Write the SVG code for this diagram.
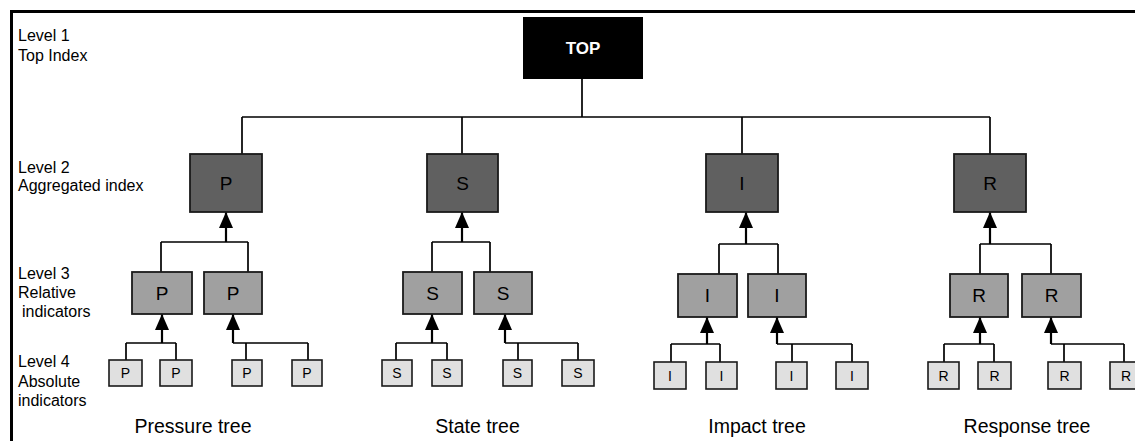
<svg xmlns="http://www.w3.org/2000/svg" width="1135" height="441" viewBox="0 0 1135 441">
<style>
text{font-family:"Liberation Sans",Arial,sans-serif;fill:#000}
.lvl{font-size:16px}
.tree{font-size:19.5px;text-anchor:middle}
.b2 rect{fill:#606060;stroke:#1a1a1a;stroke-width:1.8}
.b3 rect{fill:#a0a0a0;stroke:#1a1a1a;stroke-width:1.8}
.b4 rect{fill:#e0e0e0;stroke:#1a1a1a;stroke-width:1.6}
.b2 text,.b3 text{font-size:19px;text-anchor:middle}
.b4 text{font-size:14px;text-anchor:middle}
.c path{fill:none;stroke:#000;stroke-width:1.7}
.c path.a{stroke-width:2.2}
</style>
<defs>
<marker id="arr" viewBox="0 0 16 14" refX="16" refY="7" markerWidth="16" markerHeight="14" orient="auto" markerUnits="userSpaceOnUse">
<path d="M0,0 L16,7 L0,14 z" fill="#000"/>
</marker>
</defs>
<rect width="1135" height="441" fill="#fff"/>
<g id="frame"><path d="M11.5,441 V11.5 H1135" fill="none" stroke="#000" stroke-width="3"/></g>
<g id="levels">
<text class="lvl" x="18" y="41">Level 1</text>
<text class="lvl" x="18" y="61">Top Index</text>
<text class="lvl" x="18" y="173">Level 2</text>
<text class="lvl" x="18" y="191">Aggregated index</text>
<text class="lvl" x="18" y="279">Level 3</text>
<text class="lvl" x="18" y="298">Relative</text>
<text class="lvl" x="22" y="317">indicators</text>
<text class="lvl" x="18" y="367">Level 4</text>
<text class="lvl" x="18" y="387">Absolute</text>
<text class="lvl" x="18" y="406">indicators</text>
</g>
<g class="c" id="connectors">
<path d="M582,79 V117 M242,117 H990 M242,117 V154 M462,117 V154 M742,117 V154 M990,117 V154"/>
<path class="a" d="M226,242 V212" marker-end="url(#arr)"/>
<path d="M161,242 H248 M161,242 V272 M248,242 V272"/>
<path class="a" d="M162,343 V314" marker-end="url(#arr)"/>
<path d="M126,343 H176 M126,343 V360 M176,343 V360"/>
<path class="a" d="M233,343 V314" marker-end="url(#arr)"/>
<path d="M233,343 H308 M246,343 V360 M308,343 V360"/>
<path class="a" d="M462,242 V212" marker-end="url(#arr)"/>
<path d="M432,242 H490 M432,242 V272 M490,242 V272"/>
<path class="a" d="M432,343 V314" marker-end="url(#arr)"/>
<path d="M396,343 H447 M396,343 V360 M447,343 V360"/>
<path class="a" d="M505,343 V314" marker-end="url(#arr)"/>
<path d="M505,343 H578 M518,343 V360 M578,343 V360"/>
<path class="a" d="M746,244 V212" marker-end="url(#arr)"/>
<path d="M719,244 H778 M719,244 V274 M778,244 V274"/>
<path class="a" d="M707,344 V317" marker-end="url(#arr)"/>
<path d="M671,344 H720 M671,344 V362 M720,344 V362"/>
<path class="a" d="M777,344 V317" marker-end="url(#arr)"/>
<path d="M777,344 H852 M792,344 V362 M852,344 V362"/>
<path class="a" d="M990,244 V212" marker-end="url(#arr)"/>
<path d="M980,244 H1051 M980,244 V274 M1051,244 V274"/>
<path class="a" d="M980,344 V317" marker-end="url(#arr)"/>
<path d="M944,344 H994 M944,344 V362 M994,344 V362"/>
<path class="a" d="M1051,344 V317" marker-end="url(#arr)"/>
<path d="M1051,344 H1124 M1064,344 V362 M1124,344 V362"/>
</g>
<g id="top"><rect x="523" y="17" width="120" height="62" fill="#000"/><text x="583" y="54" font-size="17" font-weight="bold" text-anchor="middle" style="fill:#fff">TOP</text></g>
<g id="p2" class="b2"><rect x="190" y="154" width="72" height="58"/><text x="226" y="190">P</text></g>
<g id="s2" class="b2"><rect x="427" y="154" width="71" height="58"/><text x="462.5" y="190">S</text></g>
<g id="i2" class="b2"><rect x="706" y="154" width="72" height="58"/><text x="742" y="190">I</text></g>
<g id="r2" class="b2"><rect x="954" y="154" width="72" height="58"/><text x="990" y="190">R</text></g>
<g id="p3a" class="b3"><rect x="132" y="272" width="60" height="42"/><text x="162" y="300">P</text></g>
<g id="p3b" class="b3"><rect x="204" y="272" width="58" height="42"/><text x="233" y="300">P</text></g>
<g id="s3a" class="b3"><rect x="403" y="272" width="59" height="42"/><text x="432.5" y="300">S</text></g>
<g id="s3b" class="b3"><rect x="474" y="272" width="58" height="42"/><text x="503" y="300">S</text></g>
<g id="i3a" class="b3"><rect x="678" y="274" width="59" height="43"/><text x="707.5" y="302">I</text></g>
<g id="i3b" class="b3"><rect x="748" y="274" width="58" height="43"/><text x="777" y="302">I</text></g>
<g id="r3a" class="b3"><rect x="950" y="274" width="58" height="43"/><text x="979" y="302">R</text></g>
<g id="r3b" class="b3"><rect x="1022" y="274" width="59" height="43"/><text x="1051.5" y="302">R</text></g>
<g id="p4a" class="b4"><rect x="109" y="360" width="33" height="26"/><text x="125.5" y="378">P</text></g>
<g id="p4b" class="b4"><rect x="160" y="360" width="32" height="26"/><text x="176" y="378">P</text></g>
<g id="p4c" class="b4"><rect x="232" y="360" width="30" height="26"/><text x="247" y="378">P</text></g>
<g id="p4d" class="b4"><rect x="292" y="360" width="30" height="26"/><text x="307" y="378">P</text></g>
<g id="s4a" class="b4"><rect x="382" y="360" width="30" height="26"/><text x="397" y="378">S</text></g>
<g id="s4b" class="b4"><rect x="432" y="360" width="30" height="26"/><text x="447" y="378">S</text></g>
<g id="s4c" class="b4"><rect x="503" y="360" width="29" height="26"/><text x="517.5" y="378">S</text></g>
<g id="s4d" class="b4"><rect x="562" y="360" width="32" height="26"/><text x="578" y="378">S</text></g>
<g id="i4a" class="b4"><rect x="654" y="362" width="32" height="27"/><text x="670" y="381">I</text></g>
<g id="i4b" class="b4"><rect x="706" y="362" width="31" height="27"/><text x="721.5" y="381">I</text></g>
<g id="i4c" class="b4"><rect x="776" y="362" width="31" height="27"/><text x="791.5" y="381">I</text></g>
<g id="i4d" class="b4"><rect x="836" y="362" width="32" height="27"/><text x="852" y="381">I</text></g>
<g id="r4a" class="b4"><rect x="928" y="362" width="31" height="27"/><text x="943.5" y="381">R</text></g>
<g id="r4b" class="b4"><rect x="978" y="362" width="33" height="27"/><text x="994.5" y="381">R</text></g>
<g id="r4c" class="b4"><rect x="1048" y="362" width="33" height="27"/><text x="1064.5" y="381">R</text></g>
<g id="r4d" class="b4"><rect x="1110" y="362" width="32" height="27"/><text x="1126" y="381">R</text></g>
<g id="treelabels">
<text class="tree" x="193" y="433">Pressure tree</text>
<text class="tree" x="477.5" y="433">State tree</text>
<text class="tree" x="757" y="433">Impact tree</text>
<text class="tree" x="1027" y="433">Response tree</text>
</g>
</svg>
